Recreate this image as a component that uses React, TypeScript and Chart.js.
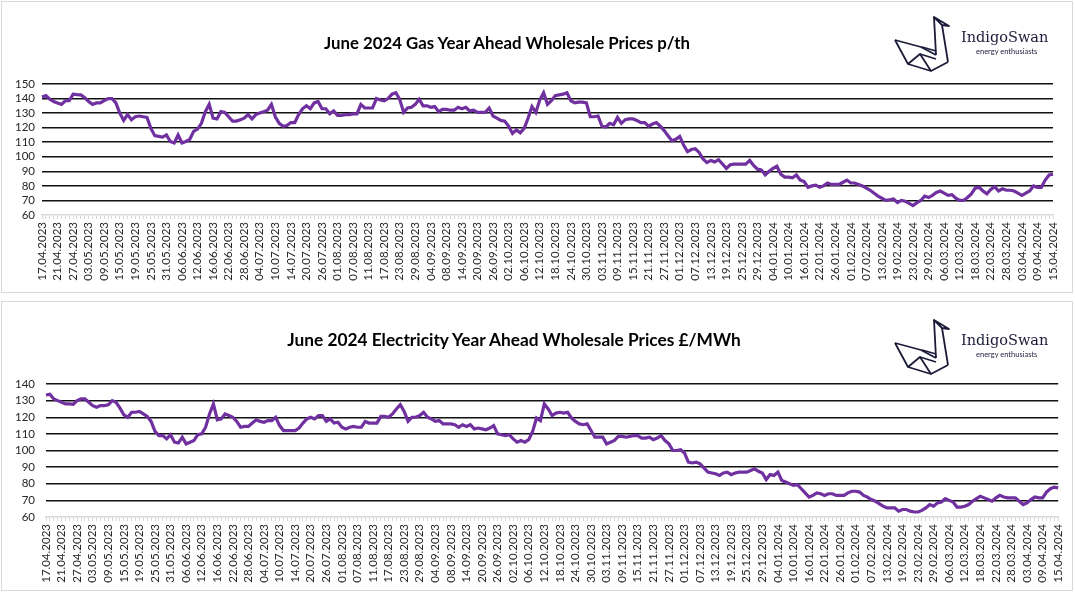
import React, { useEffect, useRef } from "react";
import { Chart, registerables } from "chart.js";

Chart.register(...registerables);

// ---- Data ----
const startDate = "2023-04-17";
const dayCount = 261; // business days 17.04.2023 - 15.04.2024
const labelEvery = 4;

const gasTitle = "June 2024 Gas Year Ahead Wholesale Prices p/th";
const elecTitle = "June 2024 Electricity Year Ahead Wholesale Prices £/MWh";

const gasTicks = { min: 60, max: 150, step: 10 };
const elecTicks = { min: 60, max: 140, step: 10 };

const gasPrices = [
  141, 142, 139.5, 138, 137, 136, 138.5, 138.5, 143, 142.7, 142.5, 140.5, 138, 136, 137, 137, 138.6, 140, 140, 137,
  130, 125, 129, 125.5, 127.5, 128, 127.5, 127, 119.5, 114.5, 114, 113.5, 115, 110.5, 109.5, 115, 109.5, 110.5, 112, 117.5,
  119, 123, 131, 136, 126.5, 126, 131, 130.5, 127.5, 124.5, 124.5, 125.5, 126.5, 129, 126, 129, 130, 131, 132, 136,
  127.5, 123, 121, 121.5, 123.5, 123.5, 129, 133, 135, 133, 137, 138, 133, 133, 129.5, 131.5, 128.5, 128.5, 129, 129,
  129.5, 129.5, 136, 133.5, 133.5, 133.5, 140, 139, 138.5, 140, 143, 144, 139.5, 130.5, 133.5, 134, 136, 139.5, 135, 135,
  134, 134.5, 131, 132.5, 132.5, 132, 132, 134, 133, 134, 131.5, 132, 130.5, 130.5, 130.5, 133.5, 128, 126.5, 125, 124.5,
  121, 116, 118.5, 116.5, 119.5, 126.5, 134.5, 130.5, 139, 144, 136, 138.5, 142, 142.5, 143, 144, 138.5, 137,
  137.5, 137.5, 137, 127.5, 127.5, 128, 121, 120.5, 123, 122, 127, 123, 125.5, 126, 126, 125, 123.5, 123.5,
  121, 122.5, 123.5, 121, 118, 114.5, 111, 112, 114, 108, 103.5, 105, 105.5, 103, 98.5, 96, 97.5, 96.5, 98, 95,
  92, 94.5, 95, 95, 95, 95, 97.5, 94, 91.5, 91, 87.5, 90, 92, 93.5, 88, 86, 86, 85.5, 87.5, 84,
  83, 79, 80, 80.5, 79, 80, 82, 81, 81, 81, 82.5, 84, 82, 82, 81, 80, 78.5, 77, 75, 73,
  71.5, 70, 70.5, 71, 68.5, 70, 69.5, 68, 66.5, 68.5, 70, 73, 72, 73.5, 75.5, 76.5, 75, 73.5, 74, 71.5,
  70, 70, 72, 74.5, 78.5, 79, 76.5, 74.5, 77.5, 79.5, 76.5, 78, 77, 77, 76.5, 75, 73.5, 75, 76.5, 80,
  79, 79, 84, 87.5, 88,
];

const elecPrices = [
  133.4, 133.8, 131, 130, 129, 128, 128, 127.8, 130, 131, 131, 129, 127, 126, 127, 127, 127.5, 130, 129, 125.5,
  121.5, 120, 123, 123, 123.5, 122, 120.5, 117.5, 111.5, 109, 109, 107, 109.5, 105, 104.5, 108, 104, 105, 106, 109.5,
  110, 114, 122, 128, 118.5, 119, 122, 121, 120, 117.5, 114, 114.5, 114.5, 116.5, 118.5, 117.5, 117, 118, 118, 120,
  115, 112, 112, 112, 112, 113.5, 116.5, 119, 120, 119, 121, 121, 117.5, 119, 116.5, 117, 114, 113, 114, 114.5,
  114, 114, 117.5, 116.5, 116.5, 116.5, 120.5, 120.5, 120, 122, 125, 127.5, 123.5, 117.5, 120, 120, 121, 123, 120, 119,
  117.5, 118, 116, 116, 116, 115.5, 114, 115.5, 114.5, 115.5, 113, 113.5, 113, 112.5, 113.5, 115, 110, 109.5, 109, 109.5,
  107, 105, 106, 105, 106.5, 111.5, 119.5, 118, 128, 125, 121, 122.5, 123, 122.5, 123, 119.5, 117.5, 116,
  115.5, 116, 112, 108, 108, 108, 104, 105, 106, 108.5, 108.5, 108, 108.5, 109, 109, 107.5, 107.5, 108,
  106.5, 107.5, 109, 106, 104, 100, 100, 100.5, 98.5, 93, 92.5, 93, 92, 89.5, 87, 86.5, 86, 85, 86.5, 87,
  85.5, 86.5, 87, 87, 87, 88, 89, 87.5, 86.5, 82.5, 85.5, 85, 87, 82, 81, 80, 79, 79.5, 77, 74.5,
  72, 73, 74.5, 74, 73, 74, 74, 73, 73, 73, 74.5, 75.5, 75.5, 75, 73, 72, 70.5, 69.5, 68, 66.5,
  65.5, 65.5, 65.5, 63.5, 64.5, 64.5, 63.5, 63, 63, 64, 65.5, 67.5, 66.5, 68.5, 69, 71, 70, 69, 66, 66,
  66.5, 67.5, 69.5, 71, 72.5, 71.5, 70.5, 69.5, 71.5, 73, 72, 71.5, 71.5, 71.5, 69.5, 67.5, 68.5, 70.5, 72, 71.5,
  71.5, 75, 77, 78, 77.5,
];

function businessDays(start: string, count: number): string[] {
  const out: string[] = [];
  const d = new Date(start + "T00:00:00Z");
  while (out.length < count) {
    const wd = d.getUTCDay();
    if (wd !== 0 && wd !== 6) {
      const dd = String(d.getUTCDate()).padStart(2, "0");
      const mm = String(d.getUTCMonth() + 1).padStart(2, "0");
      out.push(`${dd}.${mm}.${d.getUTCFullYear()}`);
    }
    d.setUTCDate(d.getUTCDate() + 1);
  }
  return out;
}

const dateLabels = businessDays(startDate, dayCount);

const LINE_COLOR = "#7030a0";
const GRID_COLOR = "#111111";
const AXIS_COLOR = "#d9d9d9";
const TEXT_COLOR = "#262626";
const FONT = "Lato, 'Open Sans', sans-serif";

type PanelProps = {
  values: number[];
  ticks: { min: number; max: number; step: number };
  top: number;
  height: number;
  area: { left: number; top: number; right: number; bottom: number };
  yPad: number;
};

function ChartPanel({ values, ticks, top, height, area, yPad }: PanelProps) {
  const ref = useRef<HTMLCanvasElement | null>(null);
  useEffect(() => {
    if (!ref.current) return;
    const chart = new Chart(ref.current, {
      type: "line",
      data: {
        labels: dateLabels,
        datasets: [
          {
            data: values,
            borderColor: LINE_COLOR,
            borderWidth: 3.2,
            pointRadius: 0,
            tension: 0,
            fill: false,
          },
        ],
      },
      options: {
        responsive: false,
        animation: false,
        devicePixelRatio: 1,
        layout: { padding: { left: 0, top: area.top, right: 1075 - area.right, bottom: 0 } },
        plugins: { legend: { display: false }, tooltip: { enabled: false }, title: { display: false } },
        scales: {
          x: {
            type: "category",
            offset: false,
            grid: {
              display: true,
              drawOnChartArea: false,
              drawTicks: true,
              tickLength: 4,
              color: AXIS_COLOR,
              lineWidth: 1,
            },
            border: { display: true, color: AXIS_COLOR, width: 1.5 },
            ticks: {
              autoSkip: false,
              maxRotation: 90,
              minRotation: 90,
              padding: 3,
              color: TEXT_COLOR,
              font: { family: FONT, size: 11.5 },
              callback: (_v: any, i: number) => (i % labelEvery === 0 ? dateLabels[i] : ""),
            },
            afterFit: (s: any) => {
              s.height = height - area.bottom;
            },
          },
          y: {
            min: ticks.min,
            max: ticks.max,
            ticks: {
              stepSize: ticks.step,
              autoSkip: false,
              padding: yPad,
              color: TEXT_COLOR,
              font: { family: FONT, size: 11.5 },
            },
            grid: {
              drawTicks: false,
              color: (c: any) => (c.tick && c.tick.value === ticks.min ? "rgba(0,0,0,0)" : GRID_COLOR),
              lineWidth: 1.5,
            },
            border: { display: false },
            afterFit: (s: any) => {
              s.width = area.left;
            },
          },
        },
      } as any,
    });
    return () => chart.destroy();
  }, []);
  return (
    <canvas
      ref={ref}
      width={1075}
      height={height}
      style={{ position: "absolute", left: 0, top, width: 1075, height }}
    />
  );
}

function Swan({ left, top }: { left: number; top: number }) {
  return (
    <svg
      width={60}
      height={60}
      viewBox="0 0 60 60"
      style={{ position: "absolute", left, top }}
      fill="none"
      stroke="#1c1c3a"
      strokeWidth={1.8}
      strokeLinejoin="round"
    >
      <polygon points="41,3 56,12 49,11" />
      <line x1="49" y1="11" x2="55" y2="48" />
      <line x1="41" y1="3" x2="43" y2="41" />
      <polyline points="2,26 15,50 38,57 55,48" />
      <polyline points="2,26 28,33 43,41" />
      <polyline points="15,50 27,40 38,57" />
      <line x1="27" y1="40" x2="43" y2="45" />
      <line x1="29" y1="33" x2="43" y2="37" />
    </svg>
  );
}

function Logo({ top }: { top: number }) {
  return (
    <>
      <Swan left={893} top={top} />
      <div
        style={{
          position: "absolute",
          left: 961,
          top: top + 14,
          fontFamily: "'DejaVu Serif', serif",
          fontSize: 14.5,
          lineHeight: "18px",
          color: "#1c1c3a",
          whiteSpace: "nowrap",
        }}
      >
        IndigoSwan
      </div>
      <div
        style={{
          position: "absolute",
          left: 976,
          top: top + 33,
          fontFamily: "Lato, sans-serif",
          fontSize: 7.5,
          lineHeight: "9px",
          color: "#1c1c3a",
          whiteSpace: "nowrap",
        }}
      >
        energy enthusiasts
      </div>
    </>
  );
}

function Title({ text, center, top, size }: { text: string; center: number; top: number; size: number }) {
  return (
    <div
      style={{
        position: "absolute",
        left: 0,
        width: center * 2,
        top,
        textAlign: "center",
        fontFamily: FONT,
        fontWeight: 700,
        fontSize: size,
        lineHeight: "20px",
        color: "#000",
        whiteSpace: "nowrap",
      }}
    >
      {text}
    </div>
  );
}

export default function App() {
  return (
    <div style={{ position: "absolute", left: 0, top: 0, width: 1075, height: 592, background: "#fff", overflow: "hidden" }}>
      <div style={{ position: "absolute", left: 1, top: 1, width: 1070, height: 290, border: "1px solid #d9d9d9" }} />
      <div style={{ position: "absolute", left: 1, top: 301, width: 1070, height: 288, border: "1px solid #d9d9d9" }} />
      <ChartPanel
        values={gasPrices}
        ticks={gasTicks}
        top={0}
        height={296}
        area={{ left: 42, top: 84, right: 1053, bottom: 215 }}
        yPad={7}
      />
      <ChartPanel
        values={elecPrices}
        ticks={elecTicks}
        top={298}
        height={294}
        area={{ left: 46, top: 86, right: 1060, bottom: 219 }}
        yPad={11}
      />
      <Title text={gasTitle} center={507} top={33} size={16.8} />
      <Title text={elecTitle} center={514} top={330} size={17.3} />
      <Logo top={14} />
      <Logo top={317} />
    </div>
  );
}
